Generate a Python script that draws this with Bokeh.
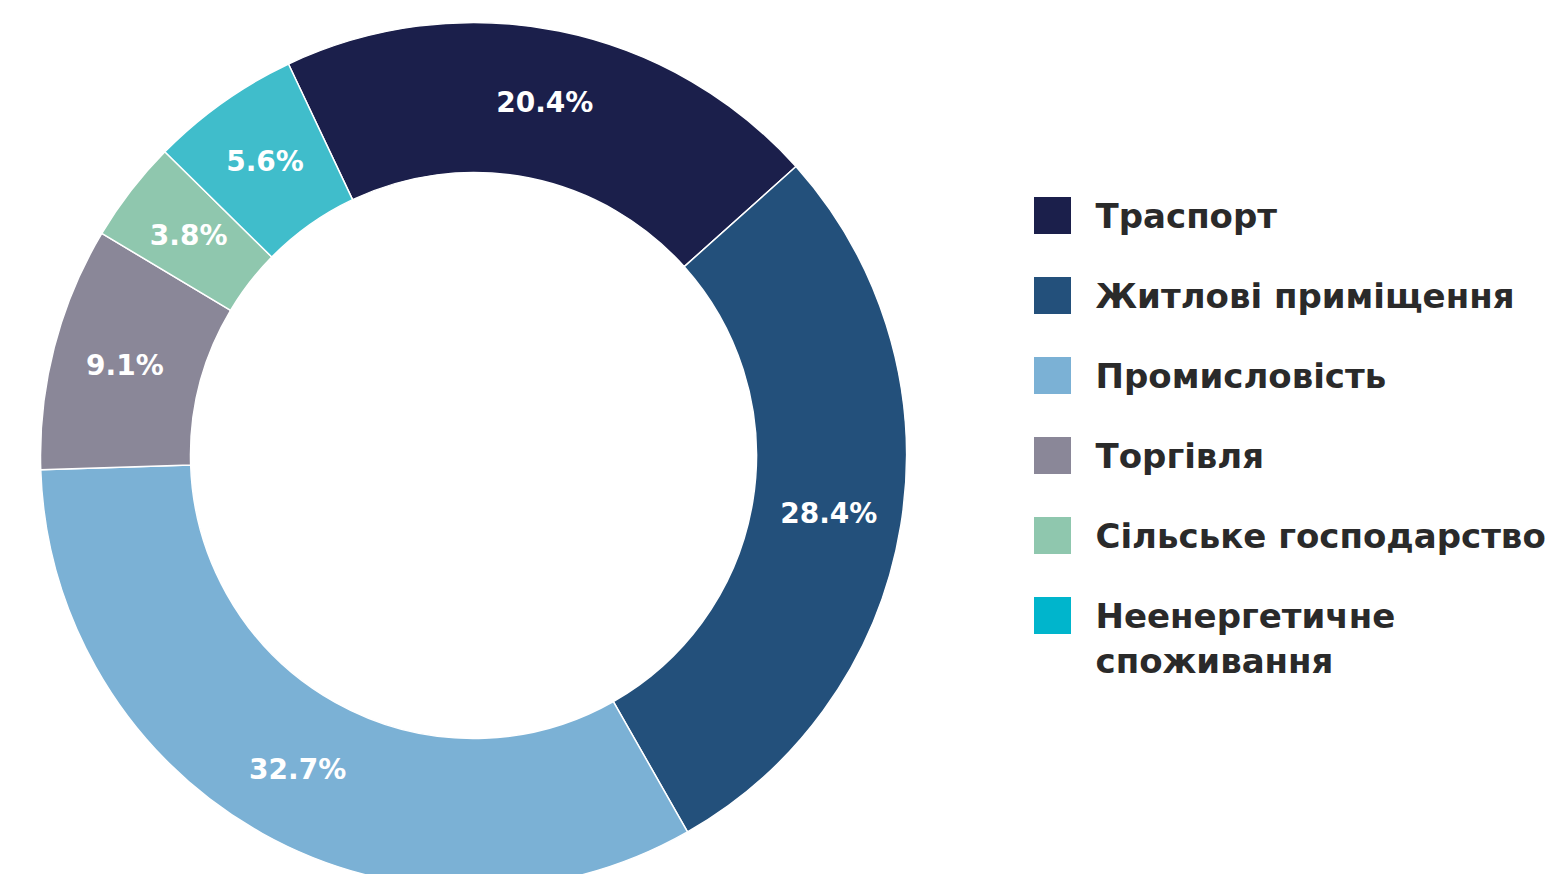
import math
from bokeh.plotting import figure
from bokeh.models import Range1d, ColumnDataSource
from bokeh.core.properties import value
from bokeh.embed import file_html
from bokeh.resources import INLINE

# ---- data ----
categories = ["Траспорт", "Житлові приміщення", "Промисловість", "Торгівля",
              "Сільське господарство", "Неенергетичне\nспоживання"]
shares = [20.4, 28.4, 32.7, 9.1, 3.8, 5.6]
ring_colors = ["#1b1f4b", "#23507b", "#7bb1d5", "#8a8798", "#8fc7ae", "#40bdcb"]
legend_colors = ["#1b1f4b", "#23507b", "#7bb1d5", "#8a8798", "#8fc7ae", "#00b5cc"]

# ---- layout (screen px) ----
W, H = 1555, 874
CX, CY = 473, 455
R_OUT, R_IN = 433, 283
START_DEG = 90 + 25.3   # ccw from +x, slices run clockwise

p = figure(width=W, height=H, output_backend="svg", toolbar_location=None,
           x_range=Range1d(0, W), y_range=Range1d(-H, 0),
           min_border=0)
p.axis.visible = False
p.grid.visible = False
p.outline_line_color = None
p.background_fill_color = "white"
p.border_fill_color = "white"

total = sum(shares)
starts, ends, lx, ly, labels = [], [], [], [], []
cum = 0.0
for v in shares:
    a0 = START_DEG - cum / total * 360
    a1 = START_DEG - (cum + v) / total * 360
    starts.append(math.radians(a0))
    ends.append(math.radians(a1))
    mid = math.radians((a0 + a1) / 2)
    rm = (R_OUT + R_IN) / 2 + 2
    lx.append(CX + rm * math.cos(mid))
    ly.append(-CY + rm * math.sin(mid))
    labels.append(f"{v:.1f}%")
    cum += v

src = ColumnDataSource(dict(start=starts, end=ends, color=ring_colors))
p.annular_wedge(x=CX, y=-CY, inner_radius=R_IN, outer_radius=R_OUT,
                start_angle="start", end_angle="end", direction="clock",
                fill_color="color", line_color="white", line_width=1.5,
                source=src)

p.text(x=lx, y=ly, text=labels, text_color="white",
       text_font=value("DejaVu Sans"), text_font_style="bold",
       text_font_size="28px", text_align="center", text_baseline="middle")

# legend
LX, LY0, STEP, SQ = 1052, 215, 80, 37
sq_x, sq_y, tx, ty, tt = [], [], [], [], []
for i, c in enumerate(categories):
    yc = LY0 + i * STEP
    sq_x.append(LX)
    sq_y.append(-yc)
    for j, line in enumerate(c.split("\n")):
        tx.append(1095)
        ty.append(-(yc + j * 45))
        tt.append(line)
p.rect(x=sq_x, y=sq_y, width=SQ, height=SQ, fill_color=legend_colors,
       line_color=None)
p.text(x=tx, y=ty, text=tt, text_color="#2a2a2a",
       text_font=value("DejaVu Sans"), text_font_style="bold",
       text_font_size="34px", text_align="left", text_baseline="middle")

open("out.html", "w").write(file_html(p, INLINE))
